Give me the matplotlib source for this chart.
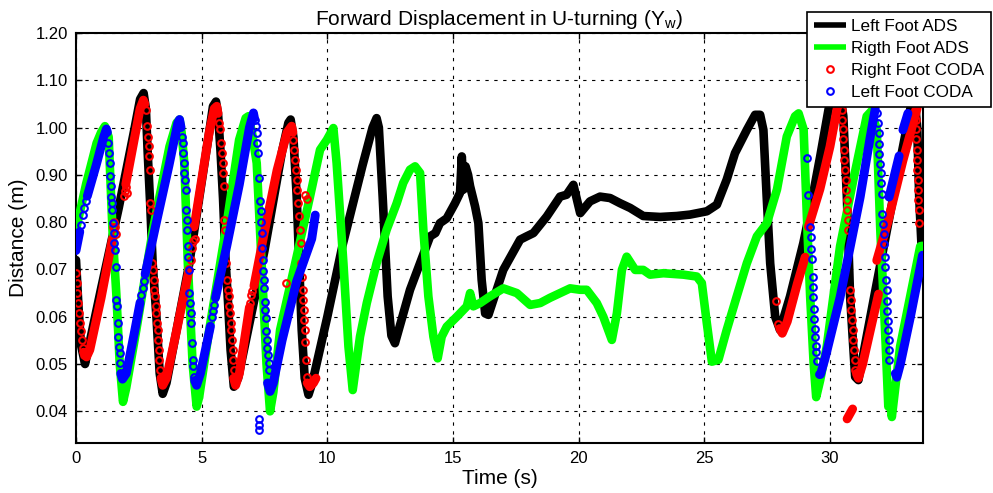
import matplotlib
matplotlib.use("Agg")
import matplotlib.pyplot as plt

plt.rcParams['font.family'] = ['Liberation Sans', 'DejaVu Sans']
plt.rcParams['mathtext.fontset'] = 'custom'
plt.rcParams['mathtext.rm'] = 'Liberation Sans'
plt.rcParams['mathtext.it'] = 'Liberation Sans:italic'

# ---------------- data ----------------
title = r'Forward Displacement in U-turning (Y$_{\rm w}$)'
xlabel = 'Time (s)'
ylabel = 'Distance (m)'
x_ticks = [0, 5, 10, 15, 20, 25, 30]
y_ticks = [0.4, 0.5, 0.6, 0.7, 0.8, 0.9, 1.0, 1.1, 1.2]
y_tick_labels = ['0.04', '0.05', '0.06', '0.07', '0.80', '0.90', '1.00', '1.10', '1.20']
series_labels = ['Left Foot ADS', 'Rigth Foot ADS', 'Right Foot CODA', 'Left Foot CODA']

# Left Foot ADS (black line)
left_ads_t = [0.0, 0.1, 0.2, 0.36, 1.0, 1.7, 2.3, 2.55, 2.69, 2.78, 2.85, 2.95, 3.05, 3.2, 3.33, 3.45,
              3.6, 4.5, 5.3, 5.45, 5.57, 5.65, 5.75, 5.85, 5.95, 6.05, 6.15, 6.28, 6.45, 7.5, 8.2, 8.45,
              8.54, 8.65, 8.78, 8.98, 9.1, 9.25, 9.4, 10.0, 10.6, 11.4, 11.8, 11.96, 12.05, 12.2, 12.4,
              12.55, 12.69, 13.29, 14.09, 14.3, 14.48, 14.75, 15.08, 15.28, 15.35, 15.42, 15.5, 15.6,
              15.68, 15.88, 16.01, 16.14, 16.28, 16.41, 17.0, 17.67, 17.93, 18.2, 18.73, 19.26, 19.52,
              19.79, 20.06, 20.45, 20.85, 21.25, 21.65, 22.05, 22.57, 23.24, 23.9, 24.43, 25.1, 25.5,
              25.89, 26.22, 26.69, 27.02, 27.22, 27.35, 27.48, 27.62, 27.82, 28.01, 28.41, 28.94, 29.21,
              29.61, 29.94, 30.2, 30.35, 30.53, 30.67, 30.8, 31.0, 31.13, 31.86, 32.65, 33.19, 33.35,
              33.47, 33.55, 33.65]
left_ads_y = [0.72, 0.62, 0.54, 0.50, 0.66, 0.83, 0.99, 1.06, 1.073, 1.04, 0.95, 0.84, 0.713, 0.60, 0.48, 0.437,
              0.46, 0.71, 0.99, 1.045, 1.055, 1.03, 0.95, 0.85, 0.72, 0.63, 0.53, 0.452, 0.47, 0.74, 0.95, 1.01,
              1.017, 0.98, 0.855, 0.572, 0.47, 0.435, 0.46, 0.60, 0.75, 0.92, 1.0, 1.02, 1.0, 0.855, 0.643,
              0.56, 0.544, 0.657, 0.77, 0.777, 0.798, 0.808, 0.84, 0.862, 0.939, 0.869, 0.918, 0.90,
              0.876, 0.833, 0.798, 0.678, 0.607, 0.604, 0.699, 0.763, 0.770, 0.777, 0.812, 0.854, 0.858,
              0.879, 0.819, 0.844, 0.854, 0.851, 0.840, 0.830, 0.813, 0.811, 0.813, 0.816, 0.823, 0.837,
              0.89, 0.946, 0.995, 1.027, 1.027, 0.995, 0.854, 0.713, 0.60, 0.572, 0.643, 0.756, 0.826,
              0.939, 1.038, 1.09, 1.09, 1.024, 0.854, 0.643, 0.473, 0.466, 0.671, 0.89, 1.038, 1.07,
              1.0, 0.85, 0.74]

# Right Foot ADS (green line)
right_ads_t = [0.0, 0.4, 0.82, 1.0, 1.15, 1.3, 1.45, 1.61, 1.74, 1.87, 2.0, 2.4, 3.06, 3.72, 4.0, 4.12,
               4.2, 4.31, 4.45, 4.64, 4.8, 4.9, 5.3, 5.96, 6.49, 6.75, 6.86, 7.0, 7.19, 7.45, 7.58, 7.72,
               7.85, 8.12, 8.78, 9.31, 9.71, 9.98, 10.24, 10.37, 10.64, 10.84, 11.01, 11.3, 11.57, 11.96,
               12.36, 12.76, 13.02, 13.29, 13.49, 13.69, 13.82, 14.02, 14.22, 14.39, 14.55, 14.75, 15.15,
               15.55, 15.68, 15.81, 16.08, 16.47, 17.0, 17.54, 18.07, 18.47, 18.86, 19.26, 19.66, 20.06,
               20.32, 20.72, 20.98, 21.32, 21.52, 21.72, 21.91, 22.25, 22.57, 22.84, 23.37, 24.17, 24.7,
               24.9, 25.1, 25.3, 25.56, 25.89, 26.29, 26.69, 27.09, 27.49, 27.89, 28.28, 28.61, 28.75,
               28.95, 29.08, 29.21, 29.35, 29.45, 29.61, 29.87, 30.4, 30.93, 31.46, 31.65, 31.86, 32.0,
               32.19, 32.32, 32.4, 32.46, 32.79, 33.19, 33.59, 33.68]
right_ads_y = [0.784, 0.88, 0.967, 0.99, 1.003, 0.98, 0.784, 0.643, 0.50, 0.42, 0.45, 0.572, 0.784, 0.96, 1.01, 1.017,
               0.99, 0.925, 0.713, 0.50, 0.41, 0.43, 0.572, 0.784, 0.974, 1.02, 1.024, 0.99, 0.925, 0.643, 0.50, 0.40,
               0.44, 0.572, 0.727, 0.854, 0.953, 0.974, 0.999, 0.925, 0.713, 0.537, 0.445, 0.558, 0.629, 0.713,
               0.784, 0.84, 0.883, 0.911, 0.918, 0.904, 0.784, 0.643, 0.558, 0.512, 0.558, 0.579, 0.60,
               0.622, 0.65, 0.622, 0.629, 0.643, 0.66, 0.65, 0.625, 0.629, 0.64, 0.65, 0.66, 0.657,
               0.657, 0.629, 0.60, 0.551, 0.607, 0.699, 0.727, 0.699, 0.699, 0.689, 0.692, 0.689, 0.685,
               0.671, 0.586, 0.505, 0.509, 0.572, 0.643, 0.713, 0.77, 0.798, 0.869, 0.981, 1.024, 1.03,
               0.996, 0.812, 0.643, 0.50, 0.43, 0.466, 0.537, 0.749, 0.89, 1.024, 1.035, 0.996, 0.784,
               0.572, 0.41, 0.42, 0.388, 0.537, 0.643, 0.749, 0.75]

# Right Foot CODA (red circles): separate samples
right_coda_t = [0.0, 0.03, 0.05, 0.09, 0.13, 0.16, 0.20, 0.22, 0.26, 0.32,
                1.47, 1.52, 1.57, 1.60, 1.90, 1.95, 2.0, 2.04,
                2.80, 2.82, 2.86, 2.89, 2.90, 2.93, 2.96, 2.98, 3.03, 3.06, 3.09, 3.11, 3.14, 3.17, 3.19,
                3.22, 3.25, 3.27, 3.30, 3.32, 3.36, 3.40,
                4.58, 4.62, 4.66, 4.72,
                5.67, 5.73, 5.77, 5.79, 5.83, 5.86, 5.87, 5.90, 5.94, 5.96, 5.99, 6.03, 6.07, 6.09, 6.12,
                6.15, 6.17, 6.20, 6.23, 6.25, 6.29,
                6.92, 6.96, 7.02, 8.36, 9.12, 9.20,
                8.65, 8.68, 8.72, 8.74, 8.78, 8.81, 8.85, 8.87, 8.91, 8.94, 8.97, 8.99, 9.02, 9.05, 9.07,
                9.09, 9.11, 9.13, 9.15, 9.18,
                27.86, 27.95,
                30.47, 30.49, 30.51, 30.53, 30.56, 30.57, 30.60, 30.63, 30.64, 30.67, 30.69, 30.71, 30.72,
                30.80, 30.83, 30.85, 30.88, 30.90, 30.93, 30.96, 30.98, 31.01,
                33.39, 33.41, 33.42, 33.44, 33.45, 33.47, 33.48, 33.50, 33.51, 33.52, 33.54, 33.56]
right_coda_y = [0.692, 0.671, 0.650, 0.629, 0.607, 0.586, 0.569, 0.551, 0.533, 0.519,
                0.79, 0.80, 0.79, 0.775, 0.855, 0.865, 0.875, 0.862,
                1.038, 1.003, 0.981, 0.960, 0.939, 0.911, 0.840, 0.826, 0.713, 0.699, 0.678, 0.657, 0.643, 0.622, 0.607,
                0.586, 0.572, 0.551, 0.530, 0.509, 0.487, 0.470,
                0.72, 0.745, 0.76, 0.765,
                1.010, 0.996, 0.967, 0.946, 0.925, 0.904, 0.876, 0.805, 0.784, 0.713, 0.678, 0.657, 0.643, 0.622, 0.607,
                0.586, 0.572, 0.551, 0.530, 0.509, 0.487,
                0.63, 0.645, 0.655, 0.671, 0.858, 0.85,
                0.974, 0.953, 0.932, 0.911, 0.890, 0.869, 0.840, 0.812, 0.784, 0.756, 0.713, 0.685, 0.657, 0.636, 0.614,
                0.593, 0.572, 0.547, 0.509, 0.473,
                0.633, 0.585,
                1.038, 1.017, 0.996, 0.975, 0.953, 0.932, 0.911, 0.890, 0.869, 0.847, 0.826, 0.805, 0.784,
                0.657, 0.636, 0.614, 0.593, 0.572, 0.551, 0.530, 0.509, 0.487,
                1.038, 1.017, 0.996, 0.975, 0.953, 0.932, 0.911, 0.890, 0.869, 0.847, 0.826, 0.798]
# Right Foot CODA: dense runs of samples (they merge into a solid band)
right_coda_runs = [
    ([0.30, 0.42, 0.55, 1.0, 1.45], [0.525, 0.515, 0.53, 0.64, 0.765]),
    ([1.98, 2.3, 2.55, 2.68, 2.74], [0.88, 0.97, 1.04, 1.058, 1.05]),
    ([3.38, 3.45, 3.6, 4.0, 4.5], [0.47, 0.455, 0.47, 0.57, 0.70]),
    ([4.70, 5.0, 5.3, 5.5, 5.6, 5.65], [0.79, 0.89, 0.99, 1.04, 1.045, 1.03]),
    ([6.27, 6.35, 6.5, 6.9], [0.47, 0.455, 0.48, 0.62]),
    ([7.08, 7.5, 8.0, 8.4, 8.58, 8.63], [0.665, 0.78, 0.91, 0.99, 1.003, 0.99]),
    ([9.2, 9.3, 9.45, 9.55], [0.46, 0.452, 0.46, 0.47]),
    ([28.0, 28.1, 28.3, 28.7, 29.01], [0.575, 0.565, 0.59, 0.67, 0.726]),
    ([29.14, 29.6, 30.0, 30.3, 30.42], [0.79, 0.87, 0.96, 1.045, 1.07]),
    ([30.68, 30.9], [0.384, 0.405]),
    ([31.05, 31.13, 31.3, 31.93], [0.48, 0.47, 0.50, 0.648]),
    ([31.86, 32.3, 32.9, 33.45, 33.5], [0.719, 0.80, 0.93, 1.037, 1.05]),
]

# Left Foot CODA (blue circles): separate samples
left_coda_t = [0.2, 0.27, 0.33, 0.4,
               1.28, 1.32, 1.35, 1.37, 1.40, 1.41, 1.44, 1.45, 1.48, 1.50, 1.53, 1.56, 1.58, 1.61, 1.64,
               1.66, 1.69, 1.72, 1.74, 1.77,
               2.6, 2.65, 2.7,
               4.22, 4.25, 4.26, 4.29, 4.31, 4.34, 4.37, 4.38, 4.41, 4.42, 4.45, 4.47, 4.49, 4.51, 4.54,
               4.56, 4.59, 4.62, 4.64, 4.67, 4.71,
               5.42, 5.47, 5.51,
               7.12, 7.16, 7.19, 7.22, 7.26, 7.28, 7.32, 7.35, 7.38, 7.40, 7.41, 7.43, 7.45, 7.48, 7.49,
               7.51, 7.53, 7.55, 7.56, 7.59, 7.61, 7.64, 7.67, 7.69,
               7.27, 7.28, 7.29,
               29.08, 29.14, 29.21, 29.24, 29.25, 29.28, 29.32, 29.33, 29.34, 29.37, 29.38, 29.40, 29.42,
               29.43, 29.44, 29.47, 29.58,
               31.86, 31.89, 31.93, 31.95, 31.96, 31.99, 32.02, 32.04, 32.07, 32.07, 32.10, 32.13, 32.15,
               32.19, 32.20, 32.23, 32.26, 32.27, 32.28, 32.29, 32.32, 32.33, 32.35, 32.36]
left_coda_y = [0.795, 0.815, 0.83, 0.845,
               0.967, 0.946, 0.925, 0.897, 0.876, 0.854, 0.840, 0.826, 0.798, 0.777, 0.756, 0.741, 0.706, 0.636, 0.622,
               0.586, 0.558, 0.537, 0.523, 0.502,
               0.645, 0.66, 0.675,
               0.981, 0.967, 0.946, 0.925, 0.904, 0.890, 0.869, 0.826, 0.805, 0.784, 0.749, 0.727, 0.699, 0.650, 0.629,
               0.607, 0.586, 0.544, 0.509, 0.495, 0.473,
               0.60, 0.613, 0.625,
               1.017, 1.003, 0.989, 0.967, 0.946, 0.893, 0.844, 0.823, 0.801, 0.777, 0.745, 0.720, 0.696, 0.678, 0.660,
               0.632, 0.614, 0.597, 0.569, 0.551, 0.533, 0.519, 0.502, 0.488,
               0.36, 0.372, 0.384,
               0.935, 0.858, 0.790, 0.768, 0.744, 0.723, 0.684, 0.662, 0.641, 0.617, 0.596, 0.574, 0.557,
               0.539, 0.525, 0.507, 0.479,
               1.030, 1.009, 0.988, 0.966, 0.945, 0.924, 0.903, 0.882, 0.860, 0.818, 0.797, 0.775, 0.754,
               0.726, 0.705, 0.677, 0.656, 0.634, 0.613, 0.592, 0.571, 0.550, 0.529, 0.508]
# Left Foot CODA: dense runs
left_coda_runs = [
    ([0.0, 0.15], [0.74, 0.78]),
    ([0.45, 0.8, 1.1, 1.21, 1.25], [0.855, 0.92, 0.98, 0.997, 0.99]),
    ([1.78, 1.85, 2.0, 2.3, 2.55], [0.48, 0.468, 0.48, 0.56, 0.63]),
    ([2.75, 3.2, 3.7, 4.05, 4.12, 4.18], [0.69, 0.80, 0.92, 1.01, 1.017, 1.0]),
    ([4.72, 4.8, 4.95, 5.35], [0.465, 0.455, 0.48, 0.58]),
    ([5.55, 6.0, 6.5, 6.9, 7.06, 7.1], [0.64, 0.75, 0.88, 1.0, 1.031, 1.02]),
    ([7.62, 7.72, 7.85, 8.2, 8.78, 9.38, 9.52], [0.46, 0.442, 0.46, 0.55, 0.675, 0.765, 0.815]),
    ([29.62, 29.8, 30.4, 31.2, 31.6, 31.8], [0.478, 0.511, 0.641, 0.853, 0.98, 1.04]),
    ([32.35, 32.75], [0.853, 0.94]),
    ([32.9, 33.1], [0.995, 1.03]),
    ([32.6, 32.66, 32.8, 33.2, 33.59, 33.68], [0.48, 0.472, 0.50, 0.60, 0.705, 0.73]),
]

# ---------------- drawing ----------------
fig = plt.figure(figsize=(9.93, 4.93), dpi=100)
ax = fig.add_axes([76 / 993, 50 / 493, 847 / 993, 410 / 493])

line_w = 6.2
band_w = 6.4
msize = 4.8
medge = 1.5

h_black, = ax.plot(left_ads_t, left_ads_y, color='black', lw=line_w, solid_joinstyle='round',
                   solid_capstyle='round', label=series_labels[0], zorder=2)
h_green, = ax.plot(right_ads_t, right_ads_y, color='#00ff00', lw=line_w, solid_joinstyle='round',
                   solid_capstyle='round', label=series_labels[1], zorder=3)

for rt, ry in right_coda_runs:
    ax.plot(rt, ry, color='red', lw=band_w, solid_capstyle='round', solid_joinstyle='round', zorder=4)
h_red, = ax.plot(right_coda_t, right_coda_y, linestyle='none', marker='o', mfc='none', mec='red',
                 ms=msize, mew=medge, label=series_labels[2], zorder=4)

for rt, ry in left_coda_runs:
    ax.plot(rt, ry, color='blue', lw=band_w, solid_capstyle='round', solid_joinstyle='round', zorder=5)
h_blue, = ax.plot(left_coda_t, left_coda_y, linestyle='none', marker='o', mfc='none', mec='blue',
                  ms=msize, mew=medge, label=series_labels[3], zorder=5)

ax.set_xlim(0, 33.7)
ax.set_ylim(0.333, 1.2)
ax.set_xticks(x_ticks)
ax.set_yticks(y_ticks)
ax.set_yticklabels(y_tick_labels)
ax.tick_params(direction='in', top=True, right=True, length=4, width=1, labelsize=12, pad=6)
for s in ax.spines.values():
    s.set_linewidth(1.5)
ax.grid(True, color='black', linestyle=(0, (3, 5)), linewidth=0.8)
ax.set_axisbelow(True)

ax.set_title(title, fontsize=15, pad=6)
ax.set_xlabel(xlabel, fontsize=15, labelpad=2)
ax.set_ylabel(ylabel, fontsize=15, labelpad=5)

leg = ax.legend(handles=[h_black, h_green, h_red, h_blue], loc='upper left',
                bbox_to_anchor=(807 / 993, 1 - 12 / 493), bbox_transform=fig.transFigure,
                fancybox=False, framealpha=1, edgecolor='black', fontsize=12.3,
                borderpad=0.4, labelspacing=0.42, handlelength=1.9, handletextpad=0.25,
                borderaxespad=0, markerscale=1.0)
leg.get_frame().set_linewidth(1.2)
leg.set_zorder(10)
for lh in leg.get_lines()[:2]:
    lh.set_linewidth(4.0)
    lh.set_solid_capstyle('butt')

fig.savefig('out.png', dpi=100)
